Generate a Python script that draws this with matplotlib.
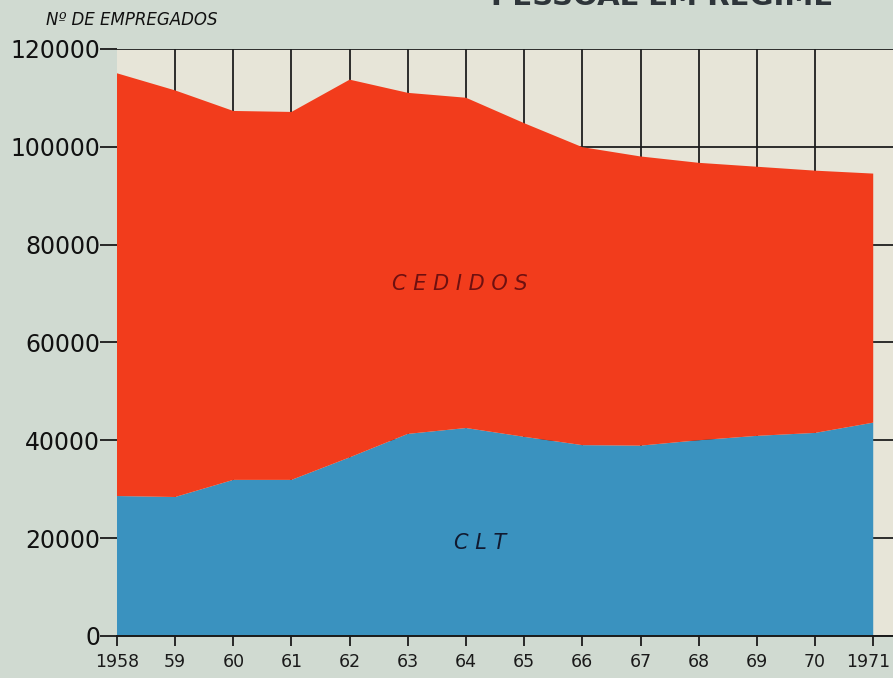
import matplotlib.pyplot as plt
import matplotlib.transforms as mtransforms

# anos e numero de empregados
anos = [1958, 1959, 1960, 1961, 1962, 1963, 1964, 1965, 1966, 1967, 1968, 1969, 1970, 1971]
clt = [28600, 28400, 31900, 31900, 36500, 41300, 42500, 40700, 39000, 38900, 40000, 40900, 41500, 43600]
total = [115000, 111500, 107300, 107100, 113700, 111000, 110000, 104800, 99900, 98000, 96700, 95900, 95100, 94500]
cedidos = [t - c for t, c in zip(total, clt)]

xlabels = ['1958', '59', '60', '61', '62', '63', '64', '65', '66', '67', '68', '69', '70', '1971']
yticks = [0, 20000, 40000, 60000, 80000, 100000, 120000]

fig = plt.figure(figsize=(8.93, 6.78), dpi=100, facecolor='#d0dad1')
ax = fig.add_axes([0.131, 0.062, 0.869, 0.866])
ax.set_facecolor('#e7e5d8')

ax.stackplot(anos, clt, cedidos, colors=['#3a92bf', '#f23c1c'], linewidth=0, zorder=2)

ax.set_xlim(1958, 1971.34)
ax.set_ylim(0, 120000)
ax.set_xticks(anos)
ax.set_xticklabels(xlabels, fontsize=12.5, color='#1a1a1a')
ax.set_yticks(yticks)
ax.set_yticklabels([str(v) for v in yticks], fontsize=17, color='#111111')
ax.tick_params(axis='y', length=12, width=1.3, pad=0, color='#1a1a1a')
ax.tick_params(axis='x', length=7, width=1.3, pad=5, color='#1a1a1a')

# o ultimo rotulo (1971) fica um pouco para a esquerda para caber
last = ax.get_xticklabels()[-1]
last.set_transform(last.get_transform() + mtransforms.ScaledTranslation(-5 / 100, 0, fig.dpi_scale_trans))

ax.set_axisbelow(True)
ax.grid(axis='y', color='#1e1e1e', linewidth=1.3)
for x in anos[1:-1]:
    ax.axvline(x, color='#1e1e1e', linewidth=1.3, zorder=1)

for s in ['left', 'right', 'top']:
    ax.spines[s].set_visible(False)
ax.spines['bottom'].set_color('#1a1a1a')
ax.spines['bottom'].set_linewidth(1.4)
ax.spines['bottom'].set_zorder(3)

ax.text(1963.9, 72000, 'C E D I D O S', fontsize=15, style='italic', color='#6e1010',
        ha='center', va='center', zorder=4)
ax.text(1964.25, 19000, 'C L T', fontsize=15, style='italic', color='#111a30',
        ha='center', va='center', zorder=4)

fig.text(0.052, 0.97, 'Nº DE EMPREGADOS', fontsize=12, style='italic', color='#111111',
         ha='left', va='center')
# titulo cortado no topo, como na imagem original (so a base das letras aparece)
fig.text(0.742, 0.9925, 'PESSOAL EM REGIME', fontsize=21, fontweight='bold', color='#2e353a',
         ha='center', va='baseline')

fig.savefig('out.png', dpi=100, facecolor=fig.get_facecolor())
